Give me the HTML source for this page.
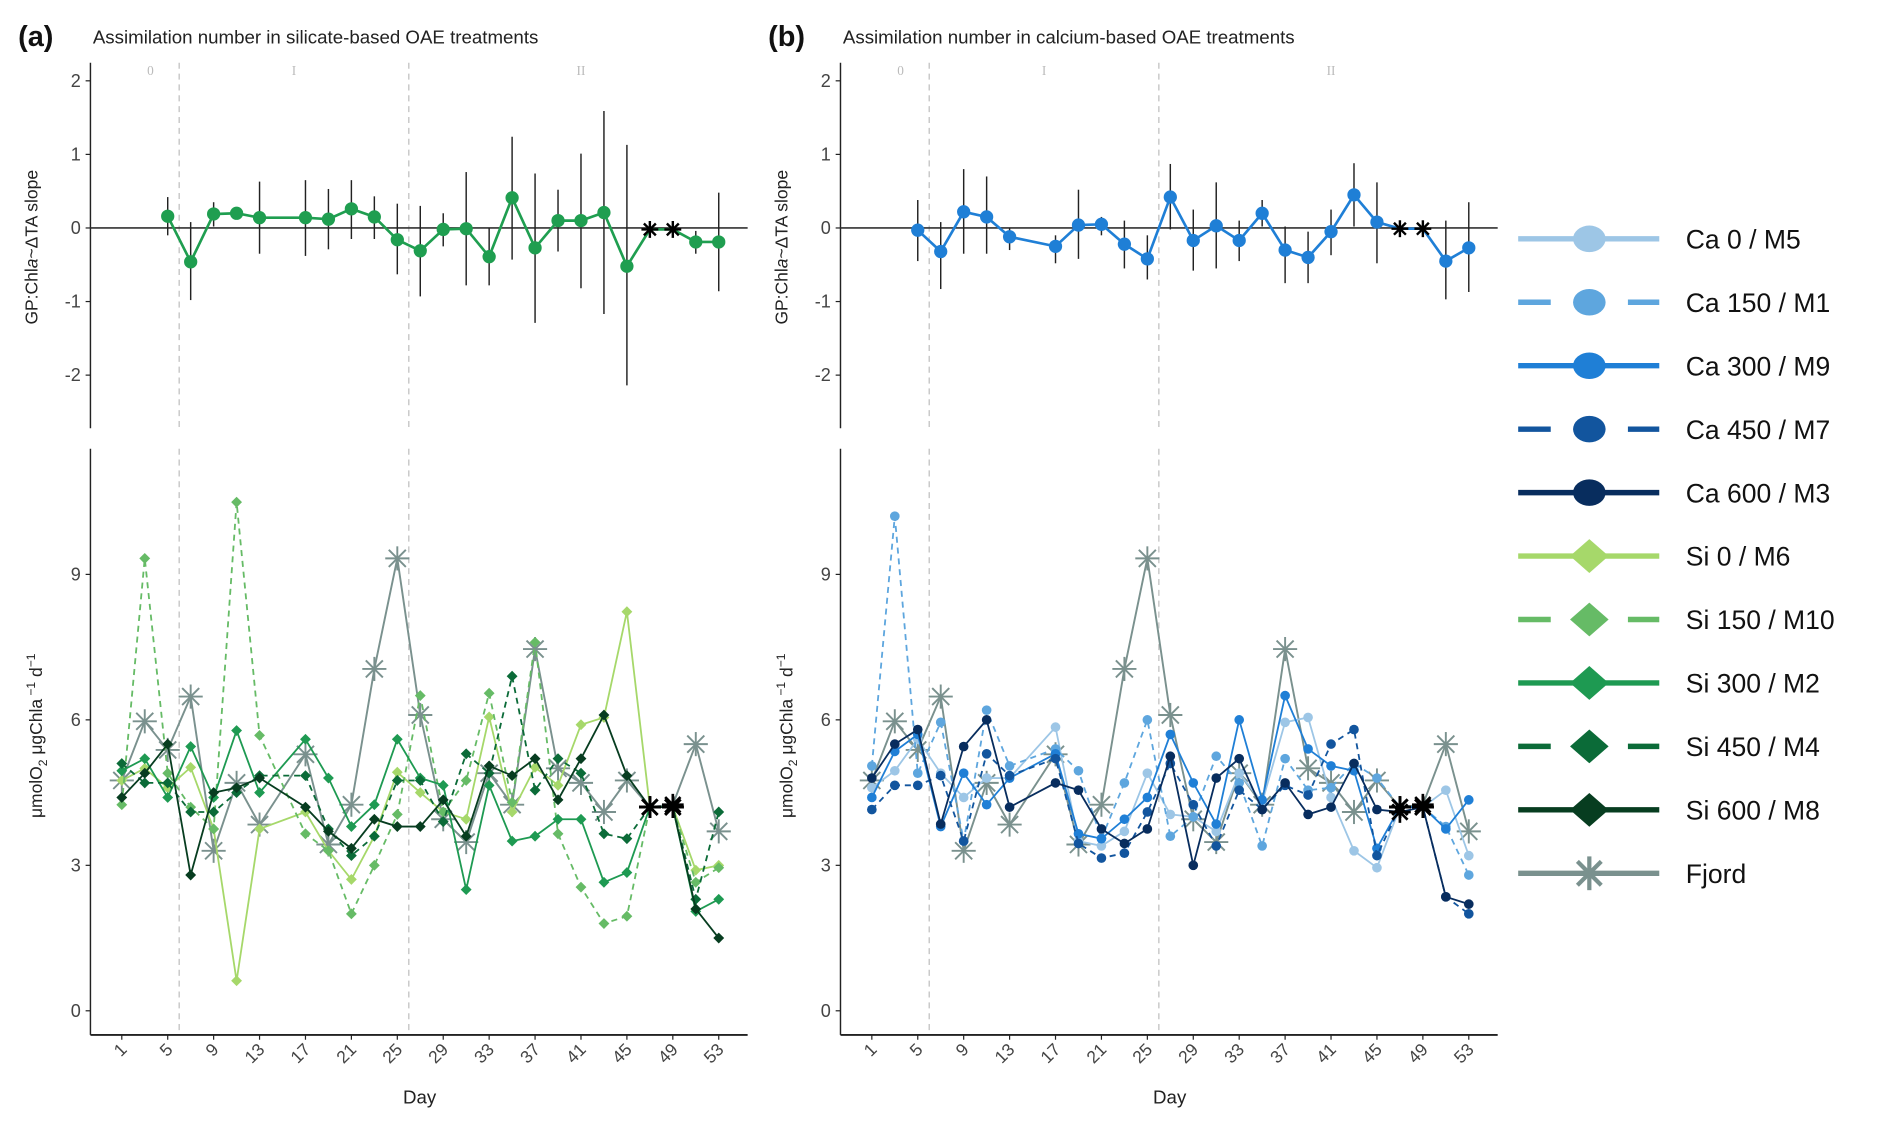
<!DOCTYPE html>
<html><head><meta charset="utf-8"><style>
html,body{margin:0;padding:0;background:#fff;}
svg{display:block;font-family:"Liberation Sans",sans-serif;}
</style></head><body>
<svg id="fig" width="1892" height="1129" viewBox="0 0 1569 936" preserveAspectRatio="none" xmlns="http://www.w3.org/2000/svg"></svg>
<script>
// ---------- data ----------
const days = [1,3,5,7,9,11,13,17,19,21,23,25,27,29,31,33,35,37,39,41,43,45,47,49,51,53];
const slopeDays = [5,7,9,11,13,17,19,21,23,25,27,29,31,33,35,37,39,41,43,45,47,49,51,53];
const slopeSi = [0.16,-0.46,0.19,0.2,0.14,0.14,0.12,0.26,0.15,-0.16,-0.31,-0.02,-0.01,-0.39,0.41,-0.27,0.1,0.1,0.21,-0.52,-0.02,-0.02,-0.19,-0.19];
const slopeSiHi = [0.42,0.08,0.35,0.2,0.63,0.65,0.53,0.65,0.43,0.33,0.3,0.2,0.76,0,1.24,0.74,0.52,1.01,1.59,1.13,-0.02,-0.02,-0.04,0.48];
const slopeSiLo = [-0.1,-0.98,0.02,0.2,-0.35,-0.38,-0.29,-0.15,-0.15,-0.63,-0.93,-0.25,-0.78,-0.78,-0.43,-1.29,-0.32,-0.82,-1.17,-2.14,-0.02,-0.02,-0.35,-0.86];
const slopeCa = [-0.03,-0.32,0.22,0.15,-0.12,-0.25,0.04,0.05,-0.22,-0.42,0.42,-0.17,0.03,-0.17,0.2,-0.3,-0.4,-0.05,0.45,0.08,-0.01,-0.01,-0.45,-0.27];
const slopeCaHi = [0.38,0.08,0.8,0.7,0.0,-0.1,0.52,0.15,0.1,-0.1,0.87,0.25,0.62,0.1,0.38,0.02,-0.05,0.25,0.88,0.62,-0.01,-0.01,0.1,0.35];
const slopeCaLo = [-0.45,-0.83,-0.35,-0.35,-0.3,-0.48,-0.42,-0.1,-0.55,-0.7,-0.02,-0.58,-0.55,-0.45,0.02,-0.75,-0.75,-0.37,0.02,-0.48,-0.01,-0.01,-0.97,-0.87];

const fjord = [4.75,5.97,5.38,6.48,3.3,4.7,3.84,5.29,3.43,4.25,7.05,9.33,6.1,3.95,3.48,4.9,4.25,7.46,5.0,4.7,4.1,4.75,4.2,4.25,5.5,3.7];
const si0   = [4.75,5.0,4.6,5.02,3.75,0.62,3.75,4.1,3.3,2.71,3.6,4.92,4.5,4.1,3.95,6.06,4.1,5.02,4.65,5.9,6.05,8.23,4.2,4.2,2.9,3.0];
const si150 = [4.25,9.33,4.9,4.2,3.75,10.49,5.68,3.65,3.3,2.0,3.0,4.05,6.5,4.1,4.75,6.55,4.3,7.6,3.65,2.55,1.8,1.95,4.2,4.2,2.65,2.95];
const si300 = [4.95,5.2,4.4,5.45,4.4,5.78,4.5,5.6,4.8,3.8,4.25,5.6,4.8,4.65,2.5,4.65,3.5,3.6,3.95,3.95,2.65,2.85,4.2,4.2,2.05,2.3];
const si450 = [5.1,4.7,4.7,4.1,4.1,4.5,4.85,4.85,3.75,3.2,3.6,4.75,4.75,3.9,5.3,4.9,6.9,4.55,5.2,4.9,3.65,3.55,4.2,4.2,2.3,4.1];
const si600 = [4.4,4.9,5.5,2.8,4.5,4.6,4.8,4.2,3.7,3.35,3.95,3.8,3.8,4.35,3.6,5.05,4.85,5.2,4.35,5.2,6.1,4.85,4.2,4.2,2.1,1.5];
const ca0   = [4.6,4.95,5.6,4.9,4.4,4.8,4.8,5.85,3.5,3.4,3.7,4.9,4.05,4.0,3.7,4.9,4.3,5.95,6.05,4.4,3.3,2.95,4.2,4.2,4.55,3.2];
const ca150 = [5.05,10.2,4.9,5.95,3.5,6.2,5.05,5.4,4.95,3.55,4.7,6.0,3.6,4.0,5.25,4.7,3.4,5.2,4.55,4.6,5.1,4.8,4.2,4.2,3.8,2.8];
const ca300 = [4.4,5.35,5.7,3.8,4.9,4.25,4.8,5.3,3.65,3.55,3.95,4.4,5.7,4.7,3.85,6.0,4.35,6.5,5.4,5.05,4.95,3.35,4.2,4.2,3.75,4.35];
const ca450 = [4.15,4.65,4.65,4.85,3.5,5.3,4.85,5.2,3.45,3.15,3.25,4.1,5.1,4.25,3.4,4.55,4.15,4.65,4.45,5.5,5.8,3.2,4.2,4.2,2.35,2.0];
const ca600 = [4.8,5.5,5.8,3.85,5.45,6.0,4.2,4.7,4.55,3.75,3.45,3.75,5.25,3.0,4.8,5.2,4.15,4.7,4.05,4.2,5.1,4.15,4.1,4.2,2.35,2.2];
const xTicks = [1,5,9,13,17,21,25,29,33,37,41,45,49,53];
const topTicks = [2,1,0,-1,-2];
const botTicks = [9,6,3,0];
const legendLabels = ["Ca 0 / M5","Ca 150 / M1","Ca 300 / M9","Ca 450 / M7","Ca 600 / M3","Si 0 / M6","Si 150 / M10","Si 300 / M2","Si 450 / M4","Si 600 / M8","Fjord"];

const C = {ca0:"#9dc6e6",ca150:"#5ea6de",ca300:"#1f7fd6",ca450:"#12559e",ca600:"#082d5e",
  si0:"#a6d86a",si150:"#66bb66",si300:"#1e9a52",si450:"#0b6b38",si600:"#073d20",fj:"#7a918e"};

const NS="http://www.w3.org/2000/svg";
const svg=document.getElementById('fig');
function el(tag,attrs,parent,txt){const e=document.createElementNS(NS,tag);for(const k in attrs)e.setAttribute(k,attrs[k]);if(txt!==undefined)e.textContent=txt;(parent||svg).appendChild(e);return e;}

const yTop=v=>189-61*v;
const yBot=v=>838-40.2*v;
function xs(x0){return d=>x0+(d-1)*9.52;}

function star(g,cx,cy,r,col,w){
  for(let i=0;i<4;i++){const a=i*Math.PI/4;
    const l=el('line',{x1:cx-r*Math.cos(a),y1:cy-r*Math.sin(a),x2:cx+r*Math.cos(a),y2:cy+r*Math.sin(a),stroke:col,'stroke-width':w},g);
    
    }
}
function marker(g,type,cx,cy,s,col){
  if(type==='circle'){const c=el('circle',{cx:cx,cy:cy,r:s,fill:col},g);}
  else if(type==='diamond'){const p=el('polygon',{points:`${cx},${cy-s} ${cx+s},${cy} ${cx},${cy+s} ${cx-s},${cy}`,fill:col},g);}
  else star(g,cx,cy,s,col,1.6);
}

function panel(key,x0,letter,title,slope,hi,lo,lineCol,series){
  const X=xs(x0+26);
  const g=el('g',{});
  
  
  const L=el('text',{x:x0-60,y:38,'font-size':24,'font-weight':'bold',fill:'#111'},g,letter);
  
  const T=el('text',{x:x0+2,y:36,'font-size':15.5,fill:'#222'},g,title);
  
  [[6-2.5,'0'],[16,'I'],[41,'II']].forEach(p=>{const t=el('text',{x:X(p[0]),y:62,'font-size':11,fill:'#bbb','text-anchor':'middle','font-family':'Liberation Serif,serif'},g,p[1]);});
  [6,26].forEach(d=>{
    const a=el('line',{x1:X(d),x2:X(d),y1:52,y2:355,stroke:'#c8c8c8','stroke-width':1.2,'stroke-dasharray':'5,4'},g);
    const b=el('line',{x1:X(d),x2:X(d),y1:372,y2:858,stroke:'#c8c8c8','stroke-width':1.2,'stroke-dasharray':'5,4'},g);
  });
  const ya=el('line',{x1:x0,x2:x0,y1:52,y2:355,stroke:'#222','stroke-width':1.2},g);
  topTicks.forEach(v=>{
    el('line',{x1:x0-4,x2:x0,y1:yTop(v),y2:yTop(v),stroke:'#222'},g);
    const t=el('text',{x:x0-8,y:yTop(v)+5,'font-size':15,fill:'#444','text-anchor':'end'},g,v<0?'-'+Math.abs(v):String(v));
    
  });
  const z=el('line',{x1:x0,x2:x0+545,y1:yTop(0),y2:yTop(0),stroke:'#333','stroke-width':1.3},g);
  const yt=el('text',{transform:`translate(${x0-44},205) rotate(-90)`,'font-size':14.5,fill:'#222','text-anchor':'middle'},g);
  
  yt.innerHTML='GP:Chl<tspan font-style="italic">a</tspan>~ΔTA slope';
  slopeDays.forEach((d,i)=>{if(hi[i]!==lo[i]){const e=el('line',{x1:X(d),x2:X(d),y1:yTop(hi[i]),y2:yTop(lo[i]),stroke:'#222','stroke-width':1.2},g);}});
  let pts=slopeDays.map((d,i)=>X(d)+','+yTop(slope[i])).join(' ');
  const pl=el('polyline',{points:pts,fill:'none',stroke:lineCol,'stroke-width':2.2},g);
  slopeDays.forEach((d,i)=>{
    if(d===47||d===49) star(g,X(d),yTop(slope[i]),7,'#000',2);
    else marker(g,'circle',X(d),yTop(slope[i]),5.5,lineCol);
  });
  const by=el('line',{x1:x0,x2:x0,y1:372,y2:858,stroke:'#222','stroke-width':1.2},g);
  const bx=el('line',{x1:x0,x2:x0+545,y1:858,y2:858,stroke:'#222','stroke-width':1.5},g);
  botTicks.forEach(v=>{
    el('line',{x1:x0-4,x2:x0,y1:yBot(v),y2:yBot(v),stroke:'#222'},g);
    const t=el('text',{x:x0-8,y:yBot(v)+5,'font-size':15,fill:'#444','text-anchor':'end'},g,String(v));
    
  });
  xTicks.forEach(d=>{
    el('line',{x1:X(d),x2:X(d),y1:858,y2:862,stroke:'#222'},g);
    const t=el('text',{transform:`translate(${X(d)+5},871) rotate(-45)`,'font-size':14.5,fill:'#444','text-anchor':'end'},g,String(d));
    
  });
  const dx=el('text',{x:x0+273,y:915,'font-size':15.5,fill:'#222','text-anchor':'middle'},g,'Day');
  
  const by2=el('text',{transform:`translate(${x0-40},610) rotate(-90)`,'font-size':14.5,fill:'#222','text-anchor':'middle'},g);
  
  by2.innerHTML='μmolO<tspan font-size="10" dy="4">2</tspan><tspan dy="-4">  μgChla</tspan><tspan font-size="10" dy="-6"> −1</tspan><tspan dy="6"> d</tspan><tspan font-size="10" dy="-6">−1</tspan>';
  series.forEach(s=>{
    const sg=el('g',{},g);
    
    
    const p=el('polyline',{points:days.map((d,i)=>X(d)+','+yBot(s.v[i])).join(' '),fill:'none',stroke:s.c,'stroke-width':s.m==='star'?1.6:1.5,'stroke-dasharray':s.dash?'5,4':'none'},sg);
    
    days.forEach((d,i)=>{ if(d!==47&&d!==49) marker(sg,s.m,X(d),yBot(s.v[i]),s.m==='star'?10:(s.m==='diamond'?4.5:4),s.c); });
  });
  series.forEach(s=>{ days.forEach((d,i)=>{ if(d===47||d===49) star(g,X(d),yBot(s.v[i]),9,'#000',2.2); }); });
}

panel('a',75,'(a)','Assimilation number in silicate-based OAE treatments',slopeSi,slopeSiHi,slopeSiLo,'#1f9e50',[
 {name:'fjord',v:fjord,c:C.fj,m:'star'},
 {name:'si0',v:si0,c:C.si0,m:'diamond'},
 {name:'si150',v:si150,c:C.si150,m:'diamond',dash:true},
 {name:'si300',v:si300,c:C.si300,m:'diamond'},
 {name:'si450',v:si450,c:C.si450,m:'diamond',dash:true},
 {name:'si600',v:si600,c:C.si600,m:'diamond'}]);
panel('b',697,'(b)','Assimilation number in calcium-based OAE treatments',slopeCa,slopeCaHi,slopeCaLo,'#1f7fd6',[
 {name:'fjord',v:fjord,c:C.fj,m:'star'},
 {name:'ca0',v:ca0,c:C.ca0,m:'circle'},
 {name:'ca150',v:ca150,c:C.ca150,m:'circle',dash:true},
 {name:'ca300',v:ca300,c:C.ca300,m:'circle'},
 {name:'ca450',v:ca450,c:C.ca450,m:'circle',dash:true},
 {name:'ca600',v:ca600,c:C.ca600,m:'circle'}]);

const lg=el('g',{});


const legCols=[C.ca0,C.ca150,C.ca300,C.ca450,C.ca600,C.si0,C.si150,C.si300,C.si450,C.si600,C.fj];
legendLabels.forEach((lab,i)=>{
  const y=198+i*52.6;
  const eg=el('g',{},lg);
  
  
  const dash=(i===1||i===3||i===6||i===8);
  if(dash){
    el('line',{x1:1259,x2:1286,y1:y,y2:y,stroke:legCols[i],'stroke-width':4.5},eg);
    el('line',{x1:1350,x2:1376,y1:y,y2:y,stroke:legCols[i],'stroke-width':4.5},eg);
  } else el('line',{x1:1259,x2:1376,y1:y,y2:y,stroke:legCols[i],'stroke-width':4.5},eg);
  if(i<5){const c=el('ellipse',{cx:1318,cy:y,rx:13.5,ry:11,fill:legCols[i]},eg);}
  else if(i<10){const p=el('polygon',{points:`1318,${y-14} 1334,${y} 1318,${y+14} 1302,${y}`,fill:legCols[i]},eg);}
  else star(eg,1318,y,14,legCols[i],3.5);
  const t=el('text',{x:1398,y:y+8,'font-size':22,fill:'#111'},eg,lab);
  
});
</script>
</body></html>
